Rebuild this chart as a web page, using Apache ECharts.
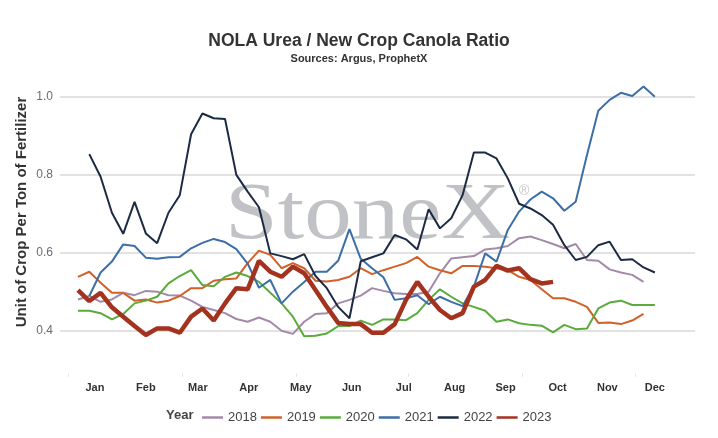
<!DOCTYPE html>
<html>
<head>
<meta charset="utf-8">
<title>NOLA Urea / New Crop Canola Ratio</title>
<script src="https://cdn.jsdelivr.net/npm/echarts@6/dist/echarts.min.js"></script>
<style>
  html, body { margin: 0; padding: 0; background: #fff; }
  #main { width: 718px; height: 438px; }
</style>
</head>
<body>
<div id="main"></div>
<script>
// weekly points, week 0 = first week of Jan
var weeks = [];
for (var w = 0; w < 52; w++) weeks.push(w);

var years = ['2018', '2019', '2020', '2021', '2022', '2023'];
var colors = ['#a48aa8', '#d2602a', '#5aab3c', '#3c6ea8', '#1c2b44', '#a3321f'];

var y2018 = [0.480, 0.489, 0.474, 0.480, 0.497, 0.491, 0.502, 0.500, 0.491, 0.490, 0.477, 0.461, 0.453, 0.445, 0.430, 0.423, 0.434, 0.423, 0.400, 0.392,
  0.423, 0.443, 0.445, 0.470, 0.479, 0.490, 0.509, 0.502, 0.496, 0.494, 0.494, 0.500, 0.547, 0.585, 0.588, 0.591, 0.608, 0.611, 0.617, 0.637,
  0.641, 0.632, 0.622, 0.611, 0.622, 0.581, 0.579, 0.557, 0.549, 0.543, 0.525, null];
var y2019 = [0.538, 0.551, 0.523, 0.497, 0.497, 0.477, 0.480, 0.472, 0.477, 0.489, 0.509, 0.509, 0.528, 0.532, 0.534, 0.573, 0.605, 0.594, 0.560, 0.573,
  0.560, 0.528, 0.526, 0.530, 0.538, 0.560, 0.545, 0.555, 0.564, 0.573, 0.589, 0.564, 0.555, 0.547, 0.566, 0.566, 0.564, 0.560, 0.555, 0.538,
  0.530, 0.506, 0.483, 0.483, 0.474, 0.461, 0.420, 0.421, 0.417, 0.426, 0.443, null];
var y2020 = [0.451, 0.451, 0.445, 0.429, 0.443, 0.470, 0.477, 0.487, 0.521, 0.540, 0.555, 0.517, 0.514, 0.538, 0.549, 0.540, 0.525, 0.497, 0.470, 0.436,
  0.386, 0.387, 0.393, 0.412, 0.412, 0.426, 0.415, 0.429, 0.429, 0.427, 0.445, 0.479, 0.506, 0.487, 0.470, 0.461, 0.451, 0.423, 0.429, 0.419,
  0.415, 0.413, 0.396, 0.415, 0.404, 0.406, 0.457, 0.472, 0.477, 0.466, 0.466, 0.466];
var y2021 = [null, 0.489, 0.549, 0.577, 0.621, 0.617, 0.587, 0.584, 0.588, 0.589, 0.611, 0.625, 0.635, 0.627, 0.609, 0.572, 0.510, 0.530, 0.470, 0.500,
  0.525, 0.551, 0.551, 0.579, 0.660, 0.584, 0.560, 0.537, 0.479, 0.483, 0.491, 0.468, 0.487, 0.474, 0.463, 0.513, 0.598, 0.577, 0.658, 0.705,
  0.736, 0.756, 0.739, 0.707, 0.730, 0.850, 0.963, 0.991, 1.009, 1.001, 1.025, 0.999];
var y2022 = [null, 0.852, 0.794, 0.702, 0.648, 0.730, 0.649, 0.624, 0.702, 0.747, 0.903, 0.956, 0.944, 0.942, 0.799, 0.756, 0.716, 0.598, 0.591, 0.583,
  0.596, 0.540, 0.509, 0.461, 0.432, 0.578, 0.588, 0.598, 0.645, 0.634, 0.608, 0.711, 0.662, 0.688, 0.747, 0.856, 0.856, 0.841, 0.790, 0.725,
  0.713, 0.696, 0.671, 0.619, 0.581, 0.589, 0.619, 0.628, 0.581, 0.583, 0.562, 0.549];
var y2023 = [0.504, 0.476, 0.497, 0.460, 0.436, 0.412, 0.389, 0.406, 0.406, 0.395, 0.436, 0.457, 0.426, 0.470, 0.509, 0.506, 0.579, 0.551, 0.538, 0.564,
  0.547, 0.504, 0.461, 0.420, 0.417, 0.417, 0.395, 0.395, 0.417, 0.479, 0.525, 0.487, 0.453, 0.432, 0.445, 0.513, 0.530, 0.566, 0.554, 0.560,
  0.532, 0.521, 0.525, null, null, null, null, null, null, null, null, null];

var monthLabels = ['Jan', 'Feb', 'Mar', 'Apr', 'May', 'Jun', 'Jul', 'Aug', 'Sep', 'Oct', 'Nov', 'Dec'];
var monthPos = [1.5, 6.0, 10.6, 15.1, 19.7, 24.2, 28.8, 33.3, 37.8, 42.4, 46.8, 51.0];
var xTickPos = [-0.85, 9.2, 19.3, 29.2, 39.3, 49.3];
var yTicks = [0.4, 0.6, 0.8, 1.0];

var allValues = [y2018, y2019, y2020, y2021, y2022, y2023];

var font = 'Liberation Sans, Arial, sans-serif';

var series = [];
for (var s = 0; s < years.length; s++) {
  var pts = [];
  for (var i = 0; i < weeks.length; i++) {
    if (allValues[s][i] != null) pts.push([weeks[i], allValues[s][i]]);
  }
  var item = {
    name: years[s],
    type: 'line',
    data: pts,
    symbol: 'none',
    z: 3,
    lineStyle: { color: colors[s], width: years[s] === '2023' ? 4.5 : 2 },
    itemStyle: { color: colors[s] }
  };
  if (s === 0) {
    // horizontal grid lines
    item.markLine = {
      silent: true,
      symbol: ['none', 'none'],
      label: { show: false },
      lineStyle: { color: '#d9d9d9', width: 1.5, type: 'solid' },
      emphasis: { disabled: true },
      z: 1,
      data: yTicks.map(function (v) { return { yAxis: v }; })
    };
  }
  series.push(item);
}

var myChart = echarts.init(document.getElementById('main'));

var option = {
  animation: false,
  backgroundColor: '#fff',
  textStyle: { fontFamily: font },
  title: {
    text: 'NOLA Urea / New Crop Canola Ratio',
    subtext: 'Sources: Argus, ProphetX',
    left: 'center',
    top: 27,
    itemGap: 3,
    textStyle: { fontFamily: font, fontSize: 17.5, fontWeight: 'bold', color: '#333' },
    subtextStyle: { fontFamily: font, fontSize: 11, fontWeight: 'bold', color: '#333' }
  },
  legend: {
    data: years,
    left: 197,
    top: 406,
    icon: 'rect',
    itemWidth: 21,
    itemHeight: 2.5,
    itemGap: 4,
    textStyle: { fontFamily: font, fontSize: 13, color: '#444' }
  },
  grid: {
    left: 60,
    right: 23,
    top: 76.8,
    bottom: 64.3,
    containLabel: false
  },
  xAxis: {
    type: 'value',
    min: -1.59,
    max: 54.55,
    splitLine: { show: false },
    axisLine: { show: false },
    axisTick: {
      show: true,
      length: 3,
      customValues: xTickPos,
      lineStyle: { color: '#e2e2e2', width: 1 }
    },
    axisLabel: {
      customValues: monthPos,
      margin: 9,
      fontFamily: font,
      fontSize: 11,
      fontWeight: 'bold',
      color: '#333',
      formatter: function (v) {
        for (var k = 0; k < monthPos.length; k++) {
          if (Math.abs(monthPos[k] - v) < 0.01) return monthLabels[k];
        }
        return '';
      }
    }
  },
  yAxis: {
    type: 'value',
    min: 0.29,
    max: 1.05,
    splitLine: { show: false },
    axisLine: { show: false },
    axisTick: { show: false },
    axisLabel: {
      customValues: yTicks,
      margin: 7,
      fontFamily: font,
      fontSize: 12,
      color: '#666d78',
      formatter: function (v) { return v.toFixed(1); }
    }
  },
  graphic: [
    {
      type: 'text',
      z: 0,
      left: 225,
      top: 176,
      scaleY: 0.85,
      silent: true,
      style: { text: 'StoneX', font: '95px "Liberation Serif", "Times New Roman", serif', fill: '#c1c2c5' }
    },
    {
      type: 'text',
      z: 0,
      left: 519,
      top: 184,
      silent: true,
      style: { text: '\u00AE', font: '14px "Liberation Sans", sans-serif', fill: '#c4c5c8' }
    },
    {
      type: 'text',
      rotation: Math.PI / 2,
      x: 22,
      y: 212,
      style: {
        text: 'Unit of Crop Per Ton of Fertilizer',
        font: 'bold 15px "Liberation Sans", Arial, sans-serif',
        fill: '#333',
        align: 'center',
        verticalAlign: 'middle'
      }
    },
    {
      type: 'text',
      left: 166,
      top: 409,
      style: { text: 'Year', font: 'bold 13px "Liberation Sans", Arial, sans-serif', fill: '#444' }
    }
  ],
  series: series
};

myChart.setOption(option);
window.onresize = myChart.resize;
</script>
</body>
</html>
